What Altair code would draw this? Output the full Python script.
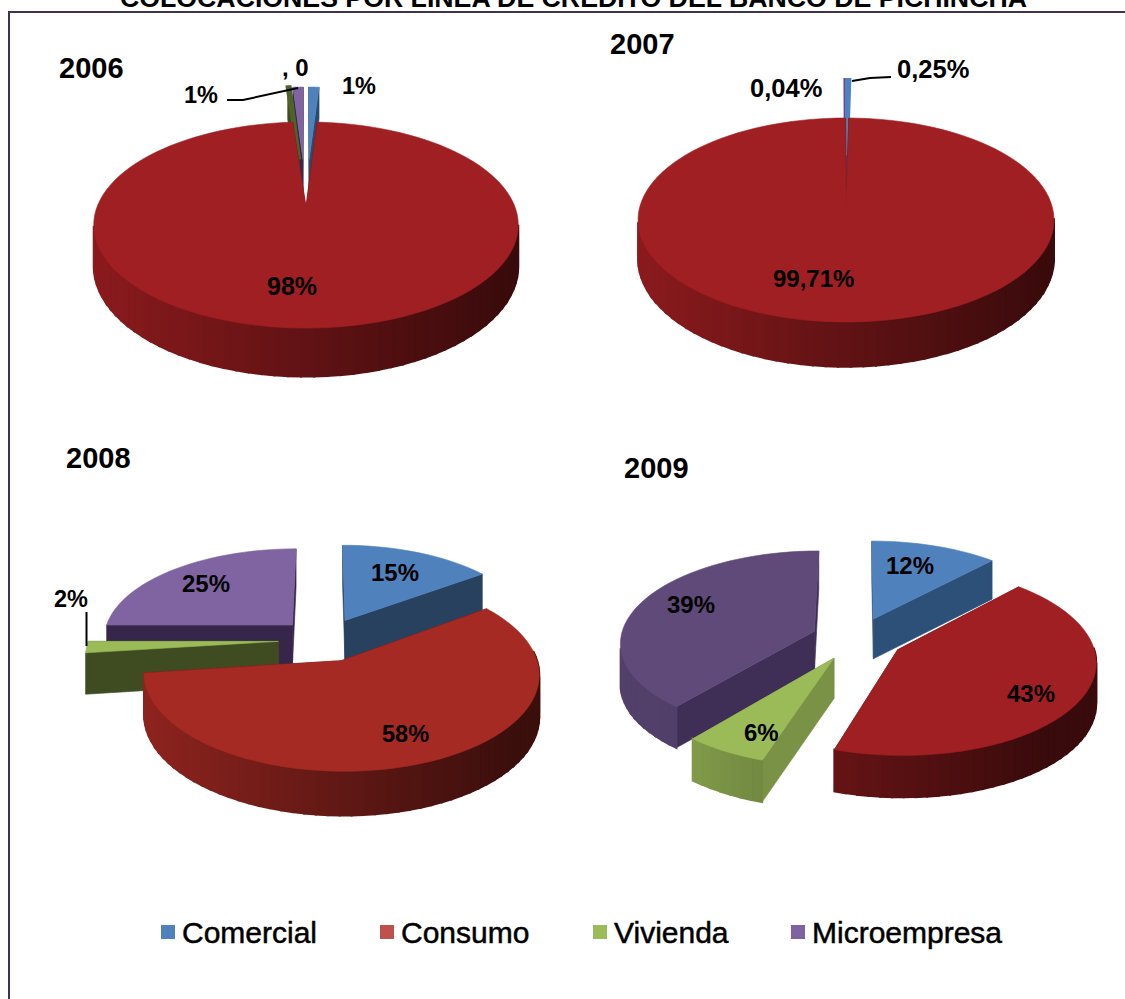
import math
import altair as alt
import pandas as pd

# Credit placements by line, per year (percent of the year's total)
series = ["Comercial", "Consumo", "Vivienda", "Microempresa"]
years = ["2006", "2007", "2008", "2009"]
shares = {
    "2006": [1, 98, 0.2, 1],
    "2007": [0.25, 99.71, 0, 0.04],
    "2008": [15, 58, 2, 25],
    "2009": [12, 43, 6, 39],
}
title_text = "COLOCACIONES POR LINEA DE CREDITO DEL BANCO DE PICHINCHA"

# Layout of each 3D pie: centre, radii, perspective strength, wall depth,
# and how far every slice is pulled out of the pie
pies = {
    "2006": dict(cx=306, cy=207, R=209, R2=99.9, k=0.175, d=40, kd=0.175, explode=[0.52, 0, 0.52, 0.52]),
    "2007": dict(cx=846, cy=205, R=205.7, R2=99.8, k=0.147, d=38, kd=0.15, explode=[0.536, 0, 0.536, 0.536]),
    "2008": dict(cx=324, cy=640, R=190, R2=90, k=0.132, d=41, kd=0.06, explode=[0.25, 0.24, 0.24, 0.24]),
    "2009": dict(cx=857, cy=638.5, R=194, R2=91, k=0.113, d=40, kd=0.04, explode=[0.235, 0.24, 0.24, 0.235]),
}

# Top-face and cut-face colours per year
top_colors = {
    "2006": ["#4f81bd", "#a01f22", "#4f6228", "#8064a2"],
    "2007": ["#4f81bd", "#a01f22", "#9bbb59", "#7030a0"],
    "2008": ["#4f81bd", "#a62a24", "#9bbb59", "#8064a2"],
    "2009": ["#4f81bd", "#a01f22", "#9bbb59", "#5f4a7a"],
}
cut_colors = {
    "2006": ["#2a4a6e", "#5a1212", "#3f4c22", "#35264a"],
    "2007": ["#2a4a6e", "#5a1212", "#3f4c22", "#2e1a50"],
    "2008": ["#27415f", "#5a1212", "#3f4c22", "#35264a"],
    "2009": ["#2d5078", "#5a1212", "#7a9246", "#3f2e55"],
}
legend_colors = ["#4f81bd", "#c0504d", "#9bbb59", "#8064a2"]
frame_color = "#3f3151"


def shade(hex_color, factor):
    channels = [int(hex_color[i:i + 2], 16) for i in (1, 3, 5)]
    return "#" + "".join(f"{min(255, int(c * factor)):02x}" for c in channels)


def polygon(ring, fill, line=0.6):
    ring = [[round(x, 2), round(y, 2)] for x, y in ring]
    ring.append(ring[0])
    return {
        "type": "Feature",
        "geometry": {"type": "Polygon", "coordinates": [ring]},
        "properties": {"fill": fill, "line": line},
    }


def slice_features(year):
    """Build the faces of one year's slices, back to front."""
    p = pies[year]
    values = shares[year]
    total = sum(values)

    def project(u, v, lowered=False):
        s = 1 / (1 + p["k"] * v)
        x = p["cx"] + p["R"] * u * s
        y = p["cy"] - p["R2"] * v * s
        if lowered:
            y += p["d"] / (1 + p["kd"] * v)
        return x, y

    slices = []
    start = 0.0
    for i, value in enumerate(values):
        sweep = 360 * value / total
        if value > 0:
            slices.append((i, start, start + sweep))
        start += sweep

    built = []
    for i, a0, a1 in slices:
        mid = math.radians((a0 + a1) / 2)
        e = p["explode"][i]
        ox, oy = e * math.sin(mid), e * math.cos(mid)
        steps = max(2, int((a1 - a0) / 3))
        angles = [math.radians(a0 + (a1 - a0) * j / steps) for j in range(steps + 1)]
        rim = [(math.sin(t) + ox, math.cos(t) + oy) for t in angles]
        apex_top = project(ox, oy)
        faces = []
        # Cut faces run from the slice's centre to either end of its rim
        for end in (rim[0], rim[-1]):
            faces.append(polygon(
                [apex_top, project(*end), project(*end, True), project(ox, oy, True)],
                cut_colors[year][i],
            ))
        # Outer wall, darkening from left to right; only the part of the rim
        # nearer than the pie's widest line faces the viewer
        horizon = -1.2 * p["k"]
        for j in range(steps):
            a, b = rim[j], rim[j + 1]
            if a[1] > horizon and b[1] > horizon:
                continue
            frac = (project(*a)[0] - p["cx"] + p["R"]) / (2 * p["R"])
            frac = max(0.0, min(1.0, frac))
            faces.append(polygon(
                [project(*a), project(*b), project(*b, True), project(*a, True)],
                shade(top_colors[year][i], 0.87 - 0.51 * frac),
                line=2.0,
            ))
        # Very thin slices keep a wider outline so that they stay visible
        outline = 4.0 if (a1 - a0) < 1.0 and e > 0 and values[i] < 0.5 else 0.6
        faces.append(polygon([apex_top] + [project(*q) for q in rim], top_colors[year][i], line=outline))
        built.append((apex_top[1], faces))

    built.sort(key=lambda item: item[0])
    return [face for _, faces in built for face in faces]


features = [face for year in years for face in slice_features(year)]

pie_layer = (
    alt.Chart(alt.Data(values=features))
    .mark_geoshape()
    .encode(
        color=alt.Color("properties.fill:N", scale=None),
        stroke=alt.Stroke("properties.fill:N", scale=None),
        strokeWidth=alt.StrokeWidth("properties.line:Q", scale=None),
    )
    .project(type="identity", scale=1, translate=[0, 0])
)

px = alt.Scale(domain=[0, 1125], range=[0, 1125])
py = alt.Scale(domain=[0, 999], range=[0, 999])
X = alt.X("x:Q", scale=px, axis=None)
Y = alt.Y("y:Q", scale=py, axis=None)

frame_points = pd.DataFrame({"x": [1125, 9, 9], "y": [12, 12, 999], "o": [0, 1, 2]})
frame = (
    alt.Chart(frame_points)
    .mark_line(color=frame_color, strokeWidth=2)
    .encode(x=X, y=Y, order="o:Q")
)

# Leader lines for the labels of the thinnest slices
leader_points = pd.DataFrame({
    "x": [227, 243, 298, 852, 870, 891, 86.5, 86.5],
    "y": [100, 100, 88, 81, 78, 77, 612, 646],
    "line": ["a", "a", "a", "b", "b", "b", "c", "c"],
    "o": [0, 1, 2, 0, 1, 2, 0, 1],
})
leaders = (
    alt.Chart(leader_points)
    .mark_line(color="black", strokeWidth=2)
    .encode(x=X, y=Y, detail="line:N", order="o:Q")
)

bold_labels = pd.DataFrame([
    (title_text, 120, 7, 26.7),
    ("2006", 59, 78, 29), ("2007", 610, 54, 29), ("2008", 66, 468, 29), ("2009", 624, 478, 29),
    ("98%", 267, 295, 25), ("1%", 184, 103, 23.5), ("1%", 342, 94, 23.5), (", 0", 282, 76, 24),
    ("99,71%", 773, 287, 24), ("0,04%", 750, 97, 25.5), ("0,25%", 897, 78, 25.5),
    ("15%", 371, 581, 24), ("25%", 182, 592, 24), ("2%", 54, 607, 23.5), ("58%", 382, 742, 23.5),
    ("12%", 886, 574, 24), ("39%", 667, 613, 24), ("43%", 1007, 702, 24), ("6%", 744, 741, 24),
], columns=["text", "x", "y", "size"])
labels = (
    alt.Chart(bold_labels)
    .mark_text(font="Liberation Sans", fontWeight="bold", align="left", baseline="alphabetic", color="black")
    .encode(x=X, y=Y, text="text:N", size=alt.Size("size:Q", scale=None))
)

# Legend row below the pies
legend_table = pd.DataFrame({
    "name": series,
    "color": legend_colors,
    "x": [168, 387, 600, 798],
    "text_x": [182, 401, 614, 812],
    "y": [932] * 4,
    "text_y": [943] * 4,
})
legend_marks = (
    alt.Chart(legend_table)
    .mark_square(size=196, opacity=1, filled=True)
    .encode(x=X, y=Y, color=alt.Color("color:N", scale=None))
)
legend_text = (
    alt.Chart(legend_table)
    .mark_text(font="Liberation Sans", fontSize=30, align="left", baseline="alphabetic", color="black",
               stroke="black", strokeWidth=0.5)
    .encode(x=alt.X("text_x:Q", scale=px, axis=None), y=alt.Y("text_y:Q", scale=py, axis=None), text="name:N")
)

chart = (
    alt.layer(pie_layer, frame, leaders, labels, legend_marks, legend_text)
    .properties(width=1125, height=999, padding=0, background="white", autosize=alt.AutoSizeParams(type="none"))
    .configure_view(stroke=None)
)
chart.save("out.html", embed_options={"renderer": "svg", "actions": False})
